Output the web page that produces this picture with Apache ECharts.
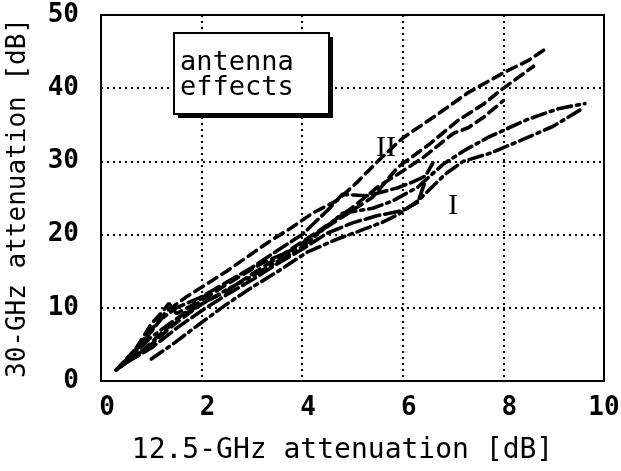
<!DOCTYPE html>
<html>
<head>
<meta charset="utf-8">
<script src="https://cdn.jsdelivr.net/npm/echarts@6/dist/echarts.min.js"></script>
<style>
  html, body { margin: 0; padding: 0; background: #fff; }
  #chart { width: 621px; height: 471px; }
</style>
</head>
<body>
<div id="chart"></div>
<script>
// axis ticks
const xTicks = [0, 2, 4, 6, 8, 10];
const yTicks = [0, 10, 20, 30, 40, 50];

// group II (dashed)
const s1x = [0.3, 0.7, 1.0, 1.3, 1.7, 2.0, 2.5, 3.0, 3.4, 3.8, 4.2, 4.7, 5.1, 5.5, 6.0, 6.6, 7.3, 8.0, 8.5, 8.8];
const s1y = [1.5, 4.5, 7.0, 9.5, 11.5, 12.8, 15.0, 17.4, 19.3, 21.0, 22.9, 24.7, 27.2, 30.0, 33.2, 36.0, 39.4, 42.1, 43.8, 45.2];
const s2x = [0.3, 0.8, 1.2, 1.6, 2.0, 2.5, 3.2, 3.8, 4.3, 4.8, 5.4, 5.9, 6.5, 7.1, 7.6, 8.0, 8.3, 8.6];
const s2y = [1.5, 4.0, 6.5, 9.0, 11.0, 13.2, 16.1, 17.9, 20.2, 22.4, 25.1, 29.2, 32.2, 35.6, 37.8, 40.0, 41.5, 43.0];
const s3x = [0.4, 1.0, 1.5, 2.0, 2.5, 3.0, 3.5, 4.0, 4.5, 5.0, 5.5, 6.0, 6.4, 7.0, 7.3, 7.6, 8.0];
const s3y = [2.0, 5.0, 8.0, 10.5, 12.3, 14.6, 16.8, 19.0, 21.3, 23.7, 26.5, 28.7, 30.5, 33.8, 34.6, 36.0, 38.3];
const s8x = [0.7, 1.0, 1.2, 1.35, 1.5, 1.8, 2.1];
const s8y = [4.5, 7.8, 9.3, 10.6, 9.2, 10.3, 11.8];

// group I (long dash / dash-dot)
const s4x = [0.3, 0.8, 1.2, 1.5, 2.0, 2.5, 3.0, 3.5, 4.0, 4.5, 4.8, 5.3, 5.9, 6.2, 6.45, 6.6];
const s4y = [1.5, 5.0, 8.5, 10.0, 11.5, 13.5, 15.5, 17.8, 20.0, 23.3, 25.5, 25.3, 26.4, 27.2, 28.0, 29.8];
const s5x = [0.5, 1.0, 1.5, 2.0, 2.5, 3.0, 3.5, 4.0, 4.5, 5.0, 5.5, 6.0, 6.3, 6.45];
const s5y = [2.5, 4.5, 7.2, 9.6, 11.8, 13.8, 16.0, 18.0, 20.2, 21.6, 22.6, 23.3, 24.4, 27.4];
const s6x = [0.4, 1.0, 1.5, 2.0, 2.5, 3.0, 3.5, 4.0, 4.8, 5.4, 5.8, 6.3, 6.8, 7.2, 7.7, 8.47, 9.09, 9.62];
const s6y = [2.0, 6.0, 8.5, 10.5, 12.5, 14.3, 16.3, 18.3, 22.9, 23.6, 24.6, 26.5, 29.6, 31.4, 33.3, 35.7, 37.2, 37.9];
const s7x = [1.0, 1.4, 2.0, 2.5, 3.0, 3.5, 4.1, 4.7, 5.1, 5.6, 5.9, 6.3, 6.85, 7.2, 7.73, 8.39, 8.99, 9.52];
const s7y = [3.0, 4.9, 8.0, 10.5, 12.8, 14.9, 17.6, 19.4, 20.4, 21.7, 22.7, 24.6, 28.3, 30.0, 31.1, 33.0, 34.8, 37.0];

const dashed = [10, 6];
const longDash = [15, 5];
const dashDot = [14, 5, 3, 5];

const zip = (xs, ys) => xs.map((x, i) => [x, ys[i]]);

const curve = (xs, ys, dash) => ({
  type: 'line',
  data: zip(xs, ys),
  showSymbol: false,
  smooth: false,
  silent: true,
  lineStyle: { color: '#000', width: 3.6, type: dash, cap: 'round' }
});

const mono = 'DejaVu Sans Mono';
const tickFont = { fontFamily: mono, fontWeight: 'bold', fontSize: 26, color: '#000' };

const chart = echarts.init(document.getElementById('chart'));
chart.setOption({
  animation: false,
  backgroundColor: '#fff',
  grid: {
    left: 101, right: 17, top: 15, bottom: 90,
    outerBoundsMode: 'none',
    containLabel: false,
    show: true, borderColor: '#000', borderWidth: 2
  },
  xAxis: {
    type: 'value',
    min: xTicks[0], max: xTicks[xTicks.length - 1], interval: 2,
    name: '12.5-GHz attenuation [dB]',
    nameLocation: 'middle',
    nameGap: 56,
    nameTextStyle: { fontFamily: mono, fontSize: 28, color: '#000', padding: [0, 20, 0, 0] },
    axisLine: { lineStyle: { color: '#000', width: 2 } },
    axisTick: { show: false },
    axisLabel: {
      ...tickFont,
      margin: 14,
      formatter: v => (v >= 10 ? '{w|' + v + '}' : '{n|' + v + '}'),
      rich: {
        n: { ...tickFont, padding: [0, 0, 0, 12] },
        w: { ...tickFont, padding: [0, 0, 0, 0] }
      }
    },
    splitLine: { show: true, lineStyle: { color: '#000', width: 2, type: [2, 4] } }
  },
  yAxis: {
    type: 'value',
    min: yTicks[0], max: yTicks[yTicks.length - 1], interval: 10,
    name: '30-GHz attenuation [dB]',
    nameLocation: 'middle',
    nameGap: 70,
    nameTextStyle: { fontFamily: mono, fontSize: 26, color: '#000' },
    axisLine: { lineStyle: { color: '#000', width: 2 } },
    axisTick: { show: false },
    axisLabel: { ...tickFont, margin: 22 },
    splitLine: { show: true, lineStyle: { color: '#000', width: 2, type: [2, 4] } }
  },
  series: [
    curve(s1x, s1y, dashed),
    curve(s2x, s2y, dashed),
    curve(s3x, s3y, dashed),
    curve(s8x, s8y, dashed),
    curve(s4x, s4y, longDash),
    curve(s5x, s5y, longDash),
    curve(s6x, s6y, dashDot),
    curve(s7x, s7y, dashDot)
  ],
  graphic: [
    { type: 'rect', shape: { x: 178, y: 37, width: 155, height: 81 }, style: { fill: '#000' }, z: 10 },
    { type: 'rect', shape: { x: 174, y: 33, width: 155, height: 81 }, style: { fill: '#fff', stroke: '#000', lineWidth: 2 }, z: 11 },
    { type: 'text', x: 180, y: 50, z: 12,
      style: { text: 'antenna\neffects', fontFamily: mono, fontSize: 27, lineHeight: 25, fill: '#000' } },
    { type: 'text', x: 386, y: 148, z: 12,
      style: { text: 'II', fontFamily: 'Liberation Serif', fontSize: 30, fill: '#000', align: 'center', verticalAlign: 'middle' } },
    { type: 'text', x: 453, y: 206, z: 12,
      style: { text: 'I', fontFamily: 'Liberation Serif', fontSize: 30, fill: '#000', align: 'center', verticalAlign: 'middle' } }
  ]
});
</script>
</body>
</html>
